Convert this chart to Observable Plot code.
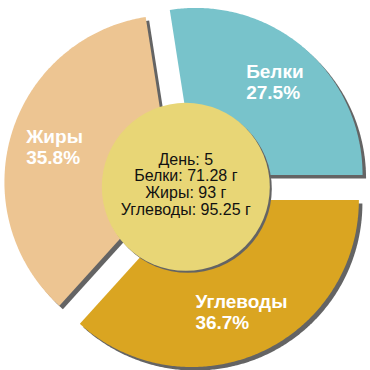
<!DOCTYPE html>
<html>
<head>
<meta charset="utf-8">
<script src="https://cdn.jsdelivr.net/npm/d3@7"></script>
<script src="https://cdn.jsdelivr.net/npm/@observablehq/plot@0.6"></script>
<style>
  html, body { margin: 0; padding: 0; background: #fff; }
  #chart svg { display: block; }
</style>
</head>
<body>
<div id="chart"></div>
<script>
// ---- data ----
const nutrients = ["Белки", "Жиры", "Углеводы"];
const grams = [71.28, 93, 95.25];
const colors = ["#78c3cb", "#edc592", "#daa521"];
const day = 5;
const unit = "г";

// ---- layout constants ----
const W = 370, H = 370;
const cx = 185.3, cy = 185.8;   // pie centre
const R = 167;                  // outer radius
const explode = 15;             // slice offset
const labelR = 122;             // label block distance from slice centre
const innerR = 84;              // centre disc radius
const shadow = "#646464";
const labelFont = "bold 19px 'Liberation Sans', Arial, sans-serif";

const total = d3.sum(grams);
// pie: starts at 3 o'clock, counter-clockwise (math angles)
const pie = d3.pie().sort(null).startAngle(0).endAngle(2 * Math.PI)(grams);

const ctx = document.createElement("canvas").getContext("2d");
ctx.font = labelFont;

const marks = [];
const labels = [];
pie.forEach((p, i) => {
  const a0 = p.startAngle, a1 = p.endAngle, mid = (a0 + a1) / 2;
  const ox = cx + explode * Math.cos(mid);
  const oy = cy - explode * Math.sin(mid);
  const n = Math.max(8, Math.ceil((a1 - a0) / 0.01));
  const pts = [{x: ox, y: oy}];
  for (let k = 0; k <= n; k++) {
    const a = a0 + (a1 - a0) * k / n;
    pts.push({x: ox + R * Math.cos(a), y: oy - R * Math.sin(a)});
  }
  pts.push({x: ox, y: oy});
  marks.push(Plot.line(pts, {x: "x", y: "y", fill: shadow, stroke: "none", dx: 3.5, dy: 3.5}));
  marks.push(Plot.line(pts, {x: "x", y: "y", fill: colors[i], stroke: "none"}));
  const pct = (grams[i] / total * 100).toFixed(1) + "%";
  const w = Math.max(ctx.measureText(nutrients[i]).width, ctx.measureText(pct).width);
  labels.push({
    x: ox + labelR * Math.cos(mid) - w / 2,
    y: oy - labelR * Math.sin(mid),
    text: nutrients[i] + "\n" + pct
  });
});

const centre = [{x: cx, y: cy + 0.5}];
const centreText = [{
  x: cx, y: cy - 2,
  text: [`День: ${day}`, ...nutrients.map((n, i) => `${n}: ${grams[i]} ${unit}`)].join("\n")
}];

marks.push(
  Plot.dot(centre, {x: "x", y: "y", r: innerR, fill: shadow, stroke: "none", dx: 2, dy: 2}),
  Plot.dot(centre, {x: "x", y: "y", r: innerR, fill: "#e8d676", stroke: "none"}),
  Plot.text(labels, {x: "x", y: "y", text: "text", textAnchor: "start", lineHeight: 1.1,
    fill: "white", fontWeight: "bold", fontSize: 19}),
  Plot.text(centreText, {x: "x", y: "y", text: "text", textAnchor: "middle", lineHeight: 1.04,
    fill: "#111", fontSize: 16})
);

const chart = Plot.plot({
  width: W, height: H,
  margin: 0,
  x: {domain: [0, W], range: [0, W], axis: null},
  y: {domain: [0, H], range: [0, H], axis: null},
  style: {fontFamily: "'Liberation Sans', Arial, sans-serif", background: "#fff"},
  marks
});
document.getElementById("chart").appendChild(chart);
</script>
</body>
</html>
